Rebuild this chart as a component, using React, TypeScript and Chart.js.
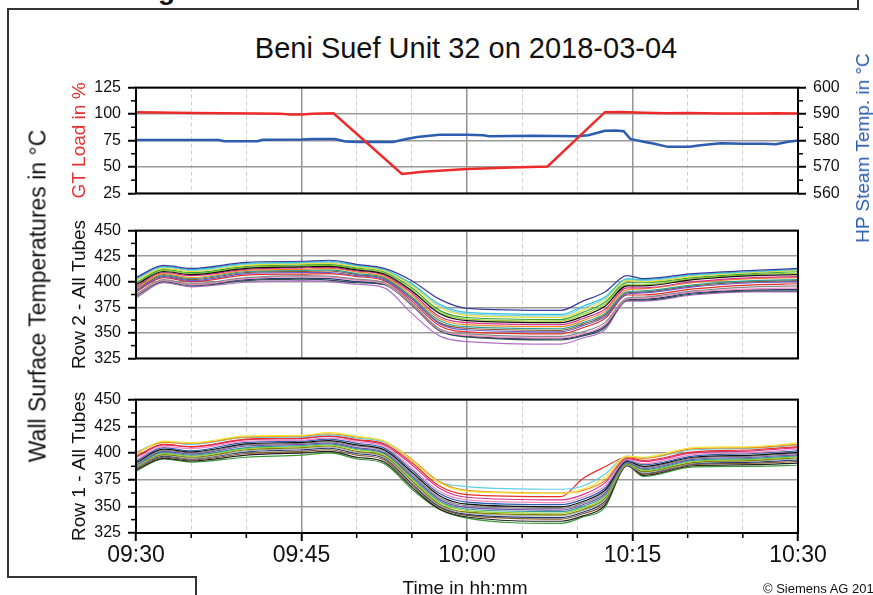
import React, { useEffect, useRef } from 'react';
import { Chart, registerables } from 'chart.js';

Chart.register(...registerables);

const FONT = '"Liberation Sans", Arial, Helvetica, sans-serif';

// ---- data ----
const timeLabels = ['09:30', '09:45', '10:00', '10:15', '10:30'];

const gtLoadTimes = [0, 2, 5, 8, 11, 13, 14, 15, 16, 17.9, 24.1, 26, 30, 34, 37.3, 42.5, 44, 46, 48, 50, 53, 56, 58, 60];
const gtLoadValues = [101.8, 101.5, 101, 100.8, 100.6, 100.4, 99.6, 99.6, 100.3, 100.8, 43.3, 45.5, 48, 49.5, 50.5, 101.8, 101.9, 101.3, 100.8, 101, 100.6, 100.5, 100.8, 100.6];

const steamTimes = [0, 3, 7.5, 8, 11, 11.5, 15, 16, 18, 19, 20, 23.3, 24.5, 25.5, 27.5, 30, 31.5, 32, 36, 40, 41, 42.5, 43.5, 44.2, 44.8, 46, 47, 48.2, 50.2, 50.8, 51.6, 53, 55, 57, 58, 59, 60];
const steamValues = [580.2, 580.2, 580.2, 579.7, 579.7, 580.3, 580.4, 580.6, 580.6, 579.6, 579.4, 579.4, 580.6, 581.3, 582.2, 582.2, 582, 581.6, 581.8, 581.6, 582, 583.7, 583.8, 583.5, 580.6, 579.5, 578.8, 577.6, 577.6, 578, 578.4, 579, 578.8, 578.8, 578.6, 579.4, 580];

const tubeTimes = [0, 2.5, 5, 10, 15, 17.5, 20, 22.5, 25, 27.5, 30, 38.5, 40.5, 42.5, 44.5, 46, 50.5, 56, 60];

const row2Tubes: number[][] = [
  [404, 416, 413, 419, 420, 421, 417, 413, 401, 383, 374, 372, 381, 390, 406, 403, 408, 411, 413],
  [403, 415, 412, 418, 419, 420, 416, 412, 398, 378, 370, 368, 376, 385, 403, 402, 407, 410, 412],
  [401, 413, 410, 416, 417.5, 418, 414.5, 410.5, 396, 375, 367, 365, 372, 382, 401, 400, 405, 409, 411],
  [399, 412, 409, 415, 416.5, 417, 413.5, 409.5, 394, 372, 365, 363, 370, 380, 399, 399, 404, 408, 410],
  [397, 410, 407, 413, 414.5, 415, 411.5, 407.5, 391, 369, 362, 360, 366, 376, 396, 396, 402, 406, 407],
  [395, 409, 406, 412, 413.5, 414, 410.5, 406.5, 389, 366, 360, 358, 364, 373, 394, 394, 400, 404, 405],
  [393, 408, 404, 411, 412, 413, 409.5, 405, 387, 364, 358, 356, 362, 371, 392, 393, 399, 403, 404],
  [394, 407, 403, 410, 411, 411.5, 408, 404, 385, 362, 356, 354, 360, 369, 390, 391, 397, 401, 402],
  [391, 405, 401, 408, 409, 409, 406, 402, 383, 359, 353, 351, 357, 366, 388, 389, 395, 399, 400],
  [390, 404, 400, 406.5, 407.5, 408, 405, 401, 381, 357, 351, 349, 355, 364, 387, 387, 393, 397, 398],
  [388, 402, 398, 404, 406, 405.5, 402.5, 399, 379, 354, 349, 346.5, 351, 360, 384, 385, 391, 395, 396],
  [387, 401, 397, 403, 405, 404.5, 401.5, 398, 378, 353, 347.5, 345, 349, 358, 383, 384, 390, 393, 394],
  [386, 400, 396, 401, 402.5, 401.5, 399, 397, 377, 352, 346, 343, 347, 355, 382, 382, 388, 391, 391],
  [384, 399, 395, 399.5, 401, 400, 397.5, 394, 369, 347, 341.5, 339, 345, 353, 381, 381, 387, 390, 390],
  [398, 411, 408, 414, 415.5, 416, 412.5, 408.5, 392, 370, 363.5, 361.5, 368, 378, 397, 397, 403, 407, 408.5],
  [392, 406, 402, 409, 410, 410.5, 407, 403, 384, 360, 354.5, 352.5, 358.5, 367.5, 389, 390, 396, 400, 401],
  [402, 414, 411, 417, 418, 419, 415.5, 411, 397, 376.5, 368.5, 366.5, 374, 383.5, 402, 401, 406, 409.5, 411.5],
  [386.5, 400.5, 397, 402, 403.5, 403, 400, 397.5, 377.5, 352.5, 346.5, 344, 348, 356.5, 382.5, 383, 389, 392, 392.5],
];

const row2Colors = ['#3b3f9c', '#35c4d6', '#e6df3a', '#3aa63a', '#111111', '#d6338a', '#f08a24', '#2aa198', '#6a5acd', '#e0302a', '#8a8a8a', '#f28cc0', '#2f4f4f', '#b070c8', '#9acd32', '#8b5a2b', '#87ceeb', '#1f3a7a'];

const row1Tubes: number[][] = [
  [399, 411, 409.5, 416, 416.5, 419, 415.5, 411, 393, 372, 364, 362, 366, 377, 397, 396, 405, 406, 409.5],
  [400, 410, 409, 415, 416, 418, 415, 411, 394, 373, 365, 362.5, 365, 374, 396, 395, 404, 405, 408],
  [400.5, 410.5, 408, 414.5, 415, 417, 414, 410, 393, 373, 368.5, 366, 369, 380, 397, 395, 403, 404.5, 407.5],
  [397, 408, 406, 413, 414, 416, 412.5, 408.5, 391, 369, 361, 359, 376, 387, 396, 393, 401, 403, 406],
  [396, 407.5, 405.5, 412.5, 413.5, 415.5, 412, 407.5, 389, 367, 358.5, 356, 361, 372, 395, 392, 400, 402, 405],
  [394, 406, 404, 411, 412, 414, 410.5, 406, 386, 364, 356, 353.5, 358.5, 369, 394, 390, 398.5, 400.5, 403.5],
  [392, 405, 402, 410, 411, 413, 409, 404.5, 384, 362, 354, 351.5, 356.5, 367, 393, 389, 397, 399.5, 402],
  [391, 403.5, 401, 408.5, 410, 411.5, 407.5, 403, 382, 360, 352, 349.5, 354.5, 365, 392, 387.5, 396, 398, 400.5],
  [390, 402.5, 400, 407.5, 409, 410.5, 406.5, 402, 380, 358, 350.5, 348, 353, 363.5, 391.5, 386.5, 395, 397, 399.5],
  [389, 401.5, 399, 406.5, 408, 409.5, 405, 400.5, 378.5, 356.5, 349, 346.5, 351.5, 362, 391, 385.5, 394, 396, 398.5],
  [388, 400.5, 398, 405, 407, 408.5, 404, 399.5, 377, 355, 347.5, 345, 350, 360.5, 390.5, 384.5, 393, 395, 397.5],
  [387.5, 399.5, 397, 404, 406, 407.5, 403, 398.5, 375.5, 353.5, 346, 343.5, 348.5, 359, 390, 383.5, 392, 394, 396.5],
  [387, 398.5, 396, 403, 405, 406.5, 401.5, 397, 374, 352, 344.5, 342, 347, 357.5, 389.5, 382.5, 391, 393, 395.5],
  [386.5, 398, 395, 402, 404, 405.5, 400.5, 396, 372.5, 351, 343.5, 341, 346, 356, 389, 381.5, 390.5, 392.5, 394.5],
  [386, 397, 394.5, 401, 403, 404.5, 399.5, 395, 371.5, 350, 342.5, 339.5, 344.5, 355, 389, 381, 390, 391.5, 393.5],
  [385, 396, 393.5, 399.5, 401.5, 403, 398, 393.5, 370, 349, 341.5, 338, 343, 353, 388.5, 380, 389, 390.5, 392],
  [384, 395, 392.5, 398, 400, 401.5, 396, 391.5, 368, 347.5, 340, 336, 341, 351, 388, 379, 388, 389, 390.5],
  [383, 394.5, 391.5, 396, 398, 400, 394.5, 390, 366, 347, 339, 334, 340, 349, 388, 378, 387, 387.5, 388.5],
];

const row1Colors = ['#f2e63a', '#f08a24', '#5fd0e0', '#e8302a', '#d6338a', '#f28cc0', '#2d5fb0', '#111111', '#8a8a8a', '#7a4fb0', '#2aa198', '#9acd32', '#808000', '#b8b8b8', '#1f3a7a', '#8b5a2b', '#222222', '#3a9a3a'];

// ---- helpers ----
const isMajor = (ctx: any) => ctx && ctx.tick && Math.round(ctx.tick.value) % 15 === 0;

const framePlugin = {
  id: 'frame',
  afterDraw(chart: any) {
    const { ctx, chartArea: a } = chart;
    const opts = chart.options.plugins.frame || {};
    ctx.save();
    ctx.strokeStyle = '#000';
    ctx.lineWidth = 1.5;
    Object.values(chart.scales).forEach((s: any) => {
      if (s.axis !== 'y') return;
      const step = s.options.ticks.stepSize;
      const left = s.position === 'left';
      for (let v = s.min + step / 2; v < s.max; v += step) {
        const y = s.getPixelForValue(v);
        ctx.beginPath();
        if (left) { ctx.moveTo(a.left - 5, y); ctx.lineTo(a.left, y); }
        else { ctx.moveTo(a.right, y); ctx.lineTo(a.right + 5, y); }
        ctx.stroke();
      }
    });
    if (opts.xMinor) {
      const s = chart.scales.x;
      for (let v = 5; v < 60; v += 5) {
        if (v % 15 === 0) continue;
        const x = s.getPixelForValue(v);
        ctx.beginPath();
        ctx.moveTo(x, a.bottom);
        ctx.lineTo(x, a.bottom + 5);
        ctx.stroke();
      }
    }
    ctx.lineWidth = 2;
    ctx.strokeRect(a.left, a.top, a.right - a.left, a.bottom - a.top);
    ctx.restore();
  },
};

const xScale = (showLabels: boolean) => ({
  type: 'linear',
  min: 0,
  max: 60,
  ticks: {
    stepSize: 5,
    display: showLabels,
    autoSkip: false,
    maxRotation: 0,
    padding: 1,
    color: '#111',
    font: { family: FONT, size: 23 },
    callback: (v: any) => (Math.round(v) % 15 === 0 ? timeLabels[Math.round(v) / 15] : ''),
  },
  grid: {
    color: (ctx: any) => (isMajor(ctx) ? '#959595' : '#cfcfcf'),
    lineWidth: (ctx: any) => (isMajor(ctx) ? 1.5 : 1),
    drawTicks: showLabels,
    tickLength: 8,
    tickWidth: 2,
    tickColor: (ctx: any) => (isMajor(ctx) ? '#000' : 'rgba(0,0,0,0)'),
  },
  border: { display: false, dash: (ctx: any) => (ctx && ctx.tick && !isMajor(ctx) ? [4, 3] : []) },
  afterFit: (s: any) => { s.height = showLabels ? 50 : 0; },
});

const yScale = (min: number, max: number, step: number, position: string, width: number, title: string | null, titleColor: string, onArea: boolean) => ({
  type: 'linear',
  position,
  min,
  max,
  ticks: { stepSize: step, color: '#111', font: { family: FONT, size: 16 }, padding: 7 },
  grid: { color: '#9a9a9a', lineWidth: 1.5, tickLength: 8, tickColor: '#000', tickWidth: 2, drawOnChartArea: onArea },
  border: { display: false },
  title: title ? { display: true, text: title, color: titleColor, font: { family: FONT, size: 19 }, padding: 0 } : { display: false },
  afterFit: (s: any) => { s.width = width; },
});

const tubeDatasets = (tubes: number[][], colors: string[]) =>
  tubes.map((arr, k) => ({
    data: tubeTimes.map((t, i) => ({ x: t, y: arr[i] })),
    borderColor: colors[k % colors.length],
    borderWidth: 1.2,
    pointRadius: 0,
    cubicInterpolationMode: 'monotone',
    fill: false,
  }));

function useChart(ref: React.RefObject<HTMLCanvasElement>, makeConfig: () => any) {
  useEffect(() => {
    if (!ref.current) return;
    const chart = new Chart(ref.current, makeConfig());
    return () => chart.destroy();
  }, []);
}

export default function App() {
  const c1 = useRef<HTMLCanvasElement>(null);
  const c2 = useRef<HTMLCanvasElement>(null);
  const c3 = useRef<HTMLCanvasElement>(null);

  useChart(c1, () => ({
    type: 'line',
    data: {
      datasets: [
        {
          data: gtLoadTimes.map((t, i) => ({ x: t, y: gtLoadValues[i] })),
          borderColor: '#ee2b2b', borderWidth: 2.5, pointRadius: 0, tension: 0, yAxisID: 'yL',
        },
        {
          data: steamTimes.map((t, i) => ({ x: t, y: steamValues[i] })),
          borderColor: '#2c5db0', borderWidth: 2.5, pointRadius: 0, tension: 0, yAxisID: 'yR',
        },
      ],
    },
    options: {
      responsive: false, animation: false,
      layout: { padding: { left: 68, right: 0, top: 12, bottom: 12 } },
      plugins: { legend: { display: false }, tooltip: { enabled: false }, frame: {} },
      scales: {
        x: xScale(false),
        yL: yScale(25, 125, 25, 'left', 68, 'GT Load in %', '#e8302f', true),
        yR: yScale(560, 600, 10, 'right', 75, null, '#2c5db0', false),
      },
    },
    plugins: [framePlugin],
  }));

  useChart(c2, () => ({
    type: 'line',
    data: { datasets: tubeDatasets(row2Tubes, row2Colors) },
    options: {
      responsive: false, animation: false,
      layout: { padding: { left: 68, right: 75, top: 12, bottom: 12 } },
      plugins: { legend: { display: false }, tooltip: { enabled: false }, frame: {} },
      scales: {
        x: xScale(false),
        y: yScale(325, 450, 25, 'left', 68, 'Row 2 - All Tubes', '#111', true),
      },
    },
    plugins: [framePlugin],
  }));

  useChart(c3, () => ({
    type: 'line',
    data: { datasets: tubeDatasets(row1Tubes, row1Colors) },
    options: {
      responsive: false, animation: false,
      layout: { padding: { left: 68, right: 75, top: 12, bottom: 0 } },
      plugins: { legend: { display: false }, tooltip: { enabled: false }, frame: { xMinor: true } },
      scales: {
        x: xScale(true),
        y: yScale(325, 450, 25, 'left', 68, 'Row 1 - All Tubes', '#111', true),
      },
    },
    plugins: [framePlugin],
  }));

  const abs = (s: React.CSSProperties): React.CSSProperties => ({ position: 'absolute', ...s });
  const line = (l: number, t: number, w: number, h: number) => <div style={abs({ left: l, top: t, width: w, height: h, background: '#333' })} />;

  return (
    <div style={{ position: 'absolute', left: 0, top: 0, width: 873, height: 595, overflow: 'hidden', background: '#fff', fontFamily: FONT, color: '#111' }}>
      <div style={abs({ left: 158, top: -26, fontSize: 28, fontWeight: 'bold', lineHeight: '32px' })}>g</div>
      {line(7, 8, 852, 2)}
      {line(857, 0, 2, 10)}
      {line(7, 8, 2, 570)}
      {line(7, 576, 190, 2)}
      {line(195, 576, 2, 20)}
      <div style={abs({ left: 466, top: 48, transform: 'translate(-50%, -50%)', fontSize: 29, whiteSpace: 'nowrap' })}>Beni Suef Unit 32 on 2018-03-04</div>
      <canvas ref={c1} width={873} height={139} style={abs({ left: 0, top: 71 })} />
      <canvas ref={c2} width={873} height={161} style={abs({ left: 0, top: 214 })} />
      <canvas ref={c3} width={873} height={200} style={abs({ left: 0, top: 383 })} />
      <div style={abs({ left: 863, top: 148, transform: 'translate(-50%, -50%) rotate(-90deg)', fontSize: 19, color: '#2c5db0', whiteSpace: 'nowrap' })}>HP Steam Temp. in °C</div>
      <div style={abs({ left: 38, top: 296, transform: 'translate(-50%, -50%) rotate(-90deg)', fontSize: 23, whiteSpace: 'nowrap' })}>Wall Surface Temperatures in °C</div>
      <div style={abs({ left: 465, top: 588, transform: 'translate(-50%, -50%)', fontSize: 19, whiteSpace: 'nowrap' })}>Time in hh:mm</div>
      <div style={abs({ left: 763, top: 588, transform: 'translate(0, -50%)', fontSize: 13, whiteSpace: 'nowrap' })}>© Siemens AG 2019</div>
    </div>
  );
}
